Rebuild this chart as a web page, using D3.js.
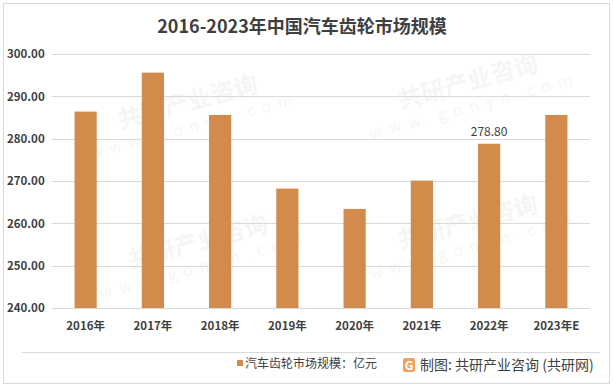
<!DOCTYPE html>
<html>
<head>
<meta charset="utf-8">
<script src="https://cdn.jsdelivr.net/npm/d3@7"></script>
<style>
  html, body { margin: 0; padding: 0; background: #fff; }
  svg text { font-family: "Noto Sans CJK SC", "Noto Sans", sans-serif; }
</style>
</head>
<body>
<div id="chart"></div>
<script>
const years = ["2016年", "2017年", "2018年", "2019年", "2020年", "2021年", "2022年", "2023年E"];
const marketSize = [286.4, 295.6, 285.6, 268.2, 263.4, 270.1, 278.8, 285.6];
const yTicks = [240, 250, 260, 270, 280, 290, 300];
const labelledYear = "2022年";
const titleText = "2016-2023年中国汽车齿轮市场规模";
const legendText = "汽车齿轮市场规模：亿元";
const sourceText = "制图: 共研产业咨询 (共研网)";

const width = 613, height = 387;
const margin = { top: 54, right: 23, bottom: 79, left: 52 };
const innerW = width - margin.left - margin.right;
const innerH = height - margin.top - margin.bottom;
const barColor = "#d38b4c";
const textColor = "#404040";

const svg = d3.select("#chart").append("svg")
    .attr("width", width)
    .attr("height", height);

svg.append("rect")
    .attr("x", 3.5).attr("y", 3.5)
    .attr("width", width - 7).attr("height", height - 7)
    .attr("fill", "#fff")
    .attr("stroke", "#d9d9d9");

// faint watermarks, kept well inside the frame
const marks = [[190, 110], [470, 90], [200, 250], [470, 230]];
marks.forEach(([x, y]) => {
    const g = svg.append("g").attr("transform", `translate(${x},${y}) rotate(-15)`).attr("opacity", 0.035);
    g.append("text").attr("text-anchor", "middle").attr("font-size", 24).attr("font-weight", "bold")
        .attr("fill", "#000").text("共研产业咨询");
    g.append("text").attr("text-anchor", "middle").attr("y", 22).attr("font-size", 16)
        .attr("letter-spacing", 7).attr("fill", "#000").text("www.gonyn.com");
});

svg.append("text")
    .attr("x", 302).attr("y", 33)
    .attr("text-anchor", "middle")
    .attr("font-size", 18).attr("font-weight", "bold")
    .attr("fill", textColor)
    .text(titleText);

const plot = svg.append("g")
    .attr("transform", "translate(" + margin.left + "," + margin.top + ")");

const x = d3.scaleBand().domain(years).range([0, innerW]).paddingInner(0.67).paddingOuter(0.335);
const y = d3.scaleLinear().domain([240, 300]).range([innerH, 0]);

// grid
plot.append("g")
    .selectAll("line")
    .data(yTicks)
    .join("line")
    .attr("x1", 0).attr("x2", innerW)
    .attr("y1", d => Math.round(y(d)) + 0.5).attr("y2", d => Math.round(y(d)) + 0.5)
    .attr("stroke", "#d9d9d9");

// y axis
const yAxis = plot.append("g")
    .call(d3.axisLeft(y).tickValues(yTicks).tickFormat(d3.format(".2f")).tickSize(0).tickPadding(10));
yAxis.select(".domain").remove();
yAxis.selectAll("text")
    .attr("font-size", 11.5).attr("font-weight", "bold").attr("fill", textColor)
    .attr("x", -45).attr("text-anchor", "start");

// x axis
const xAxis = plot.append("g")
    .attr("transform", "translate(0," + innerH + ")")
    .call(d3.axisBottom(x).tickSize(0).tickPadding(14));
xAxis.select(".domain").remove();
xAxis.selectAll("text")
    .attr("font-size", 11.5).attr("font-weight", "bold").attr("fill", textColor);

// bars
plot.selectAll("rect.bar")
    .data(years.map((yr, i) => ({ yr, v: marketSize[i] })))
    .join("rect")
    .attr("class", "bar")
    .attr("x", d => x(d.yr))
    .attr("y", d => y(d.v))
    .attr("width", x.bandwidth())
    .attr("height", d => innerH - y(d.v))
    .attr("fill", barColor);

// data label
const li = years.indexOf(labelledYear);
plot.append("text")
    .attr("x", x(labelledYear) + x.bandwidth() / 2)
    .attr("y", y(marketSize[li]) - 8)
    .attr("text-anchor", "middle")
    .attr("font-size", 12).attr("fill", textColor)
    .text(d3.format(".2f")(marketSize[li]));

// legend area
svg.append("line")
    .attr("x1", 22).attr("x2", 600)
    .attr("y1", 352.5).attr("y2", 352.5)
    .attr("stroke", "#d9d9d9");

svg.append("rect")
    .attr("x", 237).attr("y", 360)
    .attr("width", 6).attr("height", 6)
    .attr("fill", barColor);
svg.append("text")
    .attr("x", 245).attr("y", 368)
    .attr("font-size", 12).attr("fill", textColor)
    .text(legendText);

// source logo
const logo = svg.append("g").attr("transform", "translate(403,358)");
logo.append("rect").attr("width", 12).attr("height", 14).attr("rx", 2).attr("fill", "#f0a060");
logo.append("text").attr("x", 6).attr("y", 11.5).attr("text-anchor", "middle")
    .attr("font-size", 12).attr("font-weight", "bold").attr("fill", "#fff").text("G");

svg.append("text")
    .attr("x", 420).attr("y", 370)
    .attr("font-size", 14).attr("fill", textColor)
    .text(sourceText);
</script>
</body>
</html>
